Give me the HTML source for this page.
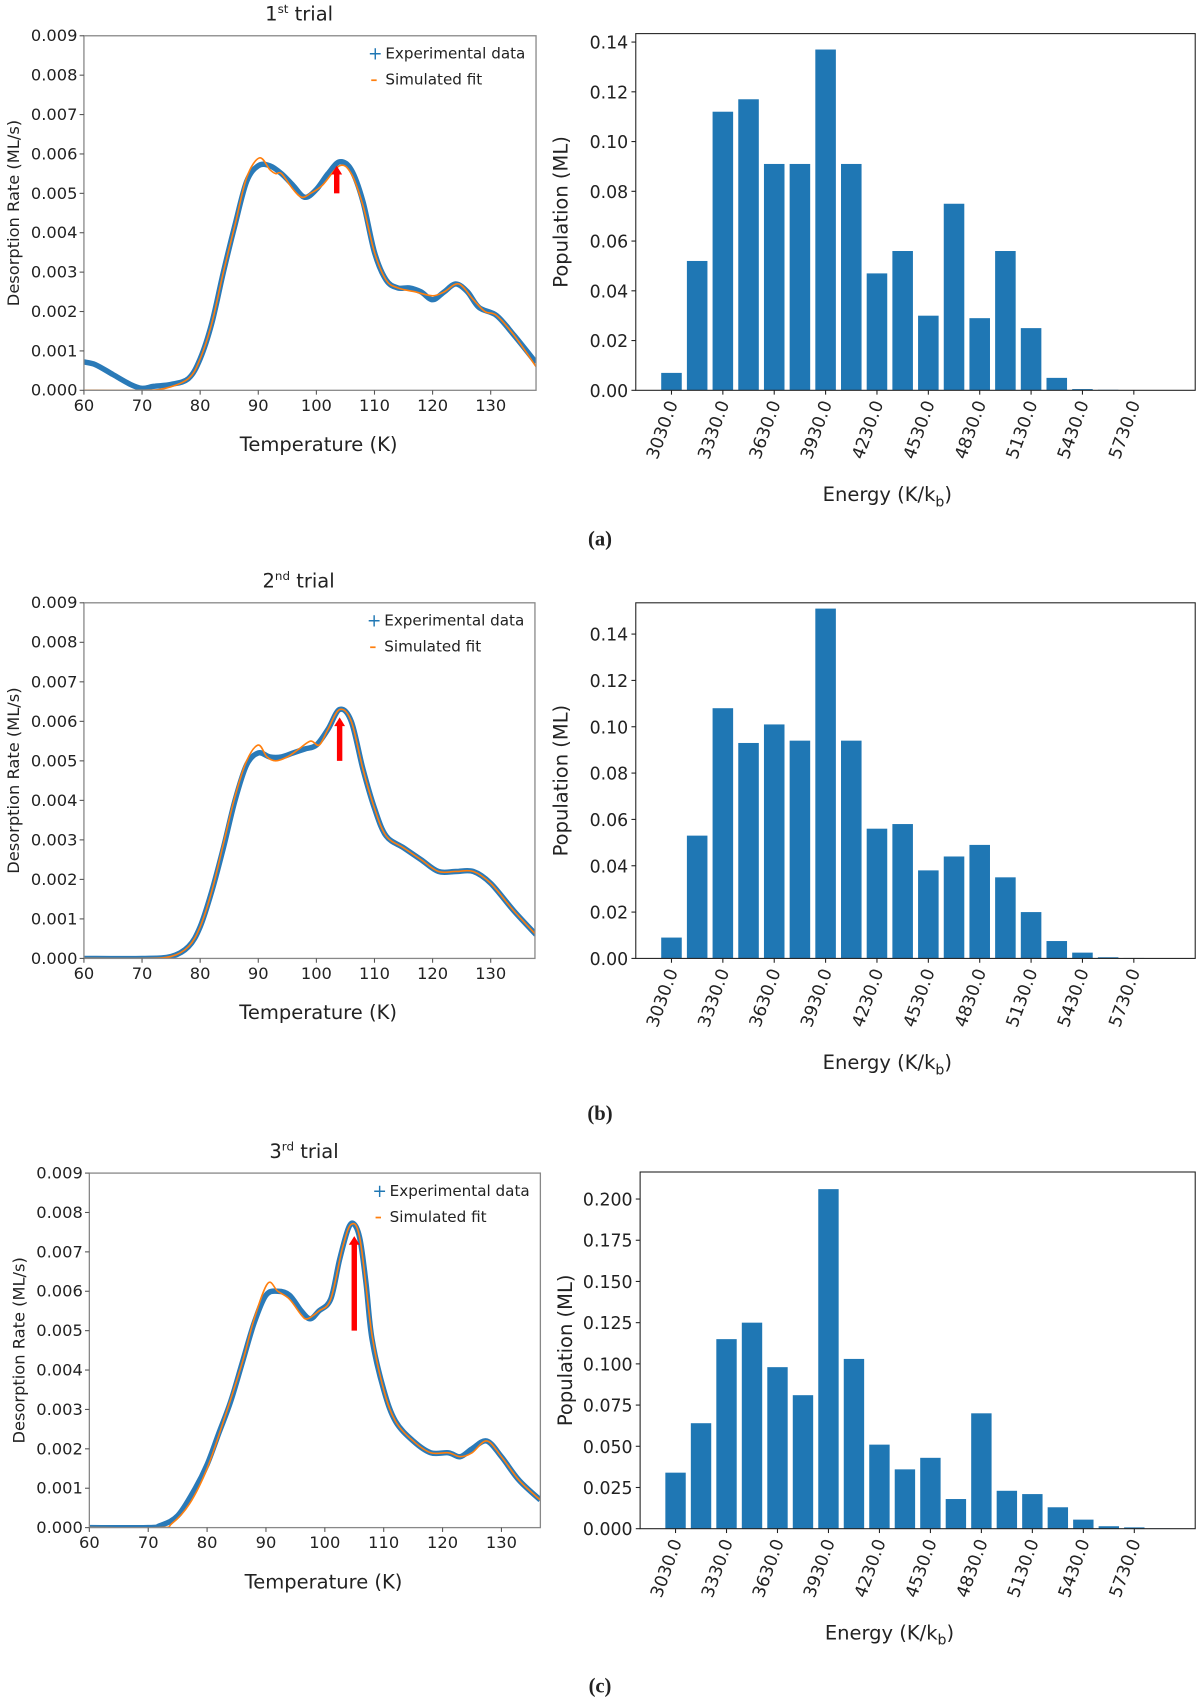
<!DOCTYPE html>
<html><head><meta charset="utf-8"><style>
html,body{margin:0;padding:0;background:#fff}
svg{display:block}
text{font-family:"DejaVu Sans","Liberation Sans",sans-serif;fill:#222}
.cap{font-family:"Liberation Serif",serif;font-weight:bold;font-size:19px}
</style></head><body>
<svg id="fig" width="1200" height="1700" viewBox="0 0 1106 1568" xmlns="http://www.w3.org/2000/svg"></svg>
<script>
const NS="http://www.w3.org/2000/svg";
const svg=document.getElementById('fig');
// ---- data ----
const energyCats=[3030,3180,3330,3480,3630,3780,3930,4080,4230,4380,4530,4680,4830,4980,5130,5280,5430,5580,5730,5880];
const energyTicks=["3030.0","3330.0","3630.0","3930.0","4230.0","4530.0","4830.0","5130.0","5430.0","5730.0"];
const popA=[0.007,0.052,0.112,0.117,0.091,0.091,0.137,0.091,0.047,0.056,0.030,0.075,0.029,0.056,0.025,0.005,0.0005,0.0002,0.0001,0.0001];
const popB=[0.009,0.053,0.108,0.093,0.101,0.094,0.151,0.094,0.056,0.058,0.038,0.044,0.049,0.035,0.020,0.0075,0.0025,0.0005,0.0002,0.0001];
const popC=[0.034,0.064,0.115,0.125,0.098,0.081,0.206,0.103,0.051,0.036,0.043,0.018,0.070,0.023,0.021,0.013,0.0055,0.0015,0.0008,0.0002];
const tTicks=[60,70,80,90,100,110,120,130];
const rTicks=[0,0.001,0.002,0.003,0.004,0.005,0.006,0.007,0.008,0.009];
const expA_T=[60,62,65,68,70,72,75,78,80,82,84,86,88,90,92,94,96,98,100,102,104,106,108,110,112,114,116,118,120,122,124,126,128,131,134,137.8];
const expA_R=[0.00072,0.00065,0.0004,0.00015,0.00005,0.0001,0.00015,0.0003,0.0008,0.0017,0.003,0.0042,0.0053,0.0057,0.0057,0.0055,0.0052,0.0049,0.0051,0.0055,0.0058,0.0056,0.0048,0.0035,0.0028,0.0026,0.0026,0.0025,0.0023,0.0025,0.0027,0.0025,0.0021,0.0019,0.0014,0.0007];
const fitA_T=[60,70,74,78,80,82,84,86,88,90.2,92,93,94,96,97.5,99,101,104,106,108,110,112,114,117,120,122,124.5,127,129,131,134,137.8];
const fitA_R=[0,0,0.00005,0.0003,0.0008,0.0017,0.003,0.0042,0.0054,0.0059,0.0056,0.0055,0.0055,0.0051,0.0049,0.005,0.0052,0.0057,0.0055,0.0047,0.0035,0.0028,0.0026,0.0025,0.0024,0.0025,0.0027,0.0023,0.002,0.0019,0.0014,0.0006];
const expB_T=[60,70,75,78,80,82,84,86,88,90,92,94,96,98,100,102,104,106,108,110,112,115,118,121,124,127,130,134,137.8];
const expB_R=[0,0,0.00005,0.0003,0.0008,0.0017,0.0028,0.004,0.0049,0.0052,0.0051,0.0051,0.0052,0.0053,0.0054,0.0058,0.0063,0.006,0.0048,0.0038,0.0031,0.0028,0.0025,0.0022,0.0022,0.0022,0.0019,0.0012,0.0006];
const fitB_T=[60,70,75,78,80,82,84,86,88,90,91.5,93,95,97,99,100.5,102,104,106,108,110,112,115,118,121,124,127,130,134,137.8];
const fitB_R=[0,0,0.00005,0.0003,0.0008,0.0017,0.0029,0.0041,0.005,0.0054,0.0051,0.005,0.0051,0.0053,0.0055,0.0054,0.0058,0.0063,0.006,0.0048,0.0038,0.0031,0.0028,0.0025,0.0022,0.0022,0.0022,0.0019,0.0012,0.0006];
const expC_T=[60,70,72,75,78,80,82,84,86,88,90,92,94,96,97.5,99,101,102.5,104,105,106,107,108,110,112,115,118,121,123,125,127.5,130,133,136.6];
const expC_R=[0,0,0.00005,0.0003,0.001,0.0016,0.0024,0.0032,0.0042,0.0052,0.0059,0.006,0.0059,0.0055,0.0053,0.0055,0.0058,0.0068,0.0076,0.0077,0.0073,0.0062,0.0048,0.0035,0.0027,0.0022,0.0019,0.0019,0.0018,0.002,0.0022,0.0018,0.0012,0.0007];
const fitC_T=[60,72,74,77,80,83,86,88,90.3,92,94,96,97,99,101,103,104.5,106,108,110,112,115,118,121,123,125,127.5,130,133,136.6];
const fitC_R=[0,0,0.0001,0.0006,0.0015,0.0028,0.0042,0.0053,0.0062,0.006,0.0058,0.0054,0.0053,0.0055,0.0058,0.0071,0.0077,0.0073,0.0049,0.0035,0.0027,0.0022,0.0019,0.0019,0.0018,0.0019,0.0022,0.0018,0.0012,0.0007];
const arrowT=[103.5,104,105];
const arrowFrom=[0.0050,0.0050,0.0050];
const arrowTo=[0.0057,0.0061,0.0074];

function el(tag,attrs,parent,txt){const e=document.createElementNS(NS,tag);for(const k in attrs)e.setAttribute(k,attrs[k]);if(txt!==undefined)e.textContent=txt;(parent||svg).appendChild(e);return e;}
function smooth(pts){let d=`M${pts[0][0]},${pts[0][1]}`;for(let i=0;i<pts.length-1;i++){const p0=pts[Math.max(0,i-1)],p1=pts[i],p2=pts[i+1],p3=pts[Math.min(pts.length-1,i+2)];const c1=[p1[0]+(p2[0]-p0[0])/6,p1[1]+(p2[1]-p0[1])/6],c2=[p2[0]-(p3[0]-p1[0])/6,p2[1]-(p3[1]-p1[1])/6];d+=`C${c1[0]},${c1[1]} ${c2[0]},${c2[1]} ${p2[0]},${p2[1]}`;}return d;}

function linePanel(o){
  const g=el('g',{});
  
  
  const X=t=>o.x0+(t-60)/10*o.kx, Y=r=>o.y1-(r/0.009)*(o.y1-o.y0);
  const clip='clip'+o.name;
  const cp=el('clipPath',{id:clip},g);el('rect',{x:o.x0,y:o.y0-3,width:o.x1-o.x0,height:o.y1-o.y0+3},cp);
  const ex=el('path',{d:smooth(o.eT.map((t,i)=>[X(t),Y(o.eR[i])])),fill:'none',stroke:'#2a7ab8','stroke-width':5,'clip-path':`url(#${clip})`},g);
  
  
  const ft=el('path',{d:smooth(o.fT.map((t,i)=>[X(t),Y(o.fR[i])])),fill:'none',stroke:'#ff7f0e','stroke-width':1.5,'clip-path':`url(#${clip})`},g);
  
  
  const ax=X(arrowT[o.i]),ay0=Y(arrowFrom[o.i]),ay1=Y(arrowTo[o.i]);
  const ar=el('g',{},g);
  
  
  el('line',{x1:ax,y1:ay0,x2:ax,y2:ay1+7,stroke:'#ff0000','stroke-width':5},ar);
  el('polygon',{points:`${ax-5},${ay1+8} ${ax+5},${ay1+8} ${ax},${ay1}`,fill:'#ff0000'},ar);
  el('rect',{x:o.x0,y:o.y0,width:o.x1-o.x0,height:o.y1-o.y0,fill:'none',stroke:'#888','stroke-width':1.2},g);
  tTicks.forEach(t=>{const x=X(t);el('line',{x1:x,y1:o.y1,x2:x,y2:o.y1+4,stroke:'#555'},g);
    const tx=el('text',{x:x,y:o.y1+19,'text-anchor':'middle','font-size':15},g,String(t));
    
    });
  rTicks.forEach(r=>{const y=Y(r);el('line',{x1:o.x0-4,y1:y,x2:o.x0,y2:y,stroke:'#555'},g);
    const tx=el('text',{x:o.x0-6,y:y+5,'text-anchor':'end','font-size':15},g,r.toFixed(3));
    
    });
  const xl=el('text',{x:(o.x0+o.x1)/2+8,y:o.y1+56,'text-anchor':'middle','font-size':18},g,'Temperature (K)');
  
  
  const yl=el('text',{x:0,y:0,'text-anchor':'middle','font-size':15,transform:`translate(${o.x0-60},${(o.y0+o.y1)/2}) rotate(-90)`},g,'Desorption Rate (ML/s)');
  
  
  const tt=el('text',{x:(o.x0+o.x1)/2-10,y:o.y0-14,'text-anchor':'middle','font-size':18},g);
  
  
  el('tspan',{},tt,o.num);el('tspan',{dy:-7,'font-size':11},tt,o.sup);el('tspan',{dy:7},tt,' trial');
  const lg=el('g',{},g);
  
  
  el('text',{x:o.x1-155,y:o.y0+22,'font-size':16,style:'fill:#1f77b4'},lg,'+');
  el('text',{x:o.x1-139,y:o.y0+21,'font-size':14},lg,'Experimental data');
  el('line',{x1:o.x1-152,y1:o.y0+41,x2:o.x1-147,y2:o.y0+41,stroke:'#ff7f0e','stroke-width':1.6},lg);
  el('text',{x:o.x1-139,y:o.y0+45,'font-size':14},lg,'Simulated fit');
}
function barPanel(o){
  const g=el('g',{});
  
  
  const n=energyCats.length, span=(n-1)+0.8, pad=span*0.05;
  const kx=(o.x1-o.x0)/(span+2*pad);
  const X=i=>o.x0+(pad+0.4+i)*kx, Y=v=>o.y1-v/o.ymax*(o.y1-o.y0);
  o.vals.forEach((v,i)=>{const b=el('rect',{x:X(i)-0.4*kx,y:Y(v),width:0.8*kx,height:o.y1-Y(v),fill:'#1f77b4'},g);
    
    });
  el('rect',{x:o.x0,y:o.y0,width:o.x1-o.x0,height:o.y1-o.y0,fill:'none',stroke:'#222','stroke-width':1},g);
  energyTicks.forEach((lab,j)=>{const x=X(j*2);el('line',{x1:x,y1:o.y1,x2:x,y2:o.y1+4,stroke:'#222'},g);
    const tx=el('text',{x:0,y:0,'text-anchor':'end','font-size':16,transform:`translate(${x+6},${o.y1+12}) rotate(-70)`},g,lab);
    
    });
  o.ticks.forEach(t=>{const y=Y(t);el('line',{x1:o.x0-4,y1:y,x2:o.x0,y2:y,stroke:'#222'},g);
    const tx=el('text',{x:o.x0-7,y:y+6,'text-anchor':'end','font-size':16},g,t.toFixed(o.dec));
    
    });
  const xl=el('text',{x:(o.x0+o.x1)/2-26,y:o.y1+102,'text-anchor':'middle','font-size':18},g);
  
  
  el('tspan',{},xl,'Energy (K/k');el('tspan',{dy:5,'font-size':13},xl,'b');el('tspan',{dy:-5},xl,')');
  const yl=el('text',{x:0,y:0,'text-anchor':'middle','font-size':18,transform:`translate(${o.x0-63},${(o.y0+o.y1)/2}) rotate(-90)`},g,'Population (ML)');
  
  
}
const tA=[0,0.02,0.04,0.06,0.08,0.10,0.12,0.14];
const tC=[0,0.025,0.05,0.075,0.1,0.125,0.15,0.175,0.2];
linePanel({name:'trial-1-tpd-chart',i:0,x0:77,x1:494,y0:33,y1:360,kx:53.6,eT:expA_T,eR:expA_R,fT:fitA_T,fR:fitA_R,num:'1',sup:'st'});
linePanel({name:'trial-2-tpd-chart',i:1,x0:77,x1:493,y0:556,y1:884,kx:53.6,eT:expB_T,eR:expB_R,fT:fitB_T,fR:fitB_R,num:'2',sup:'nd'});
linePanel({name:'trial-3-tpd-chart',i:2,x0:82,x1:498,y0:1082,y1:1409,kx:54.3,eT:expC_T,eR:expC_R,fT:fitC_T,fR:fitC_R,num:'3',sup:'rd'});
barPanel({name:'trial-1-population-chart',x0:586,x1:1102,y0:31,y1:360,ymax:0.1434,vals:popA,ticks:tA,dec:2});
barPanel({name:'trial-2-population-chart',x0:586,x1:1102,y0:556,y1:884,ymax:0.1535,vals:popB,ticks:tA,dec:2});
barPanel({name:'trial-3-population-chart',x0:590,x1:1102,y0:1081,y1:1410,ymax:0.2164,vals:popC,ticks:tC,dec:3});
[['(a)',497],['(b)',1027],['(c)',1555]].forEach(([t,y])=>{const c=el('text',{x:553,y:y+6,'text-anchor':'middle',class:'cap'},svg,t);
  
  });
</script>
</body></html>
